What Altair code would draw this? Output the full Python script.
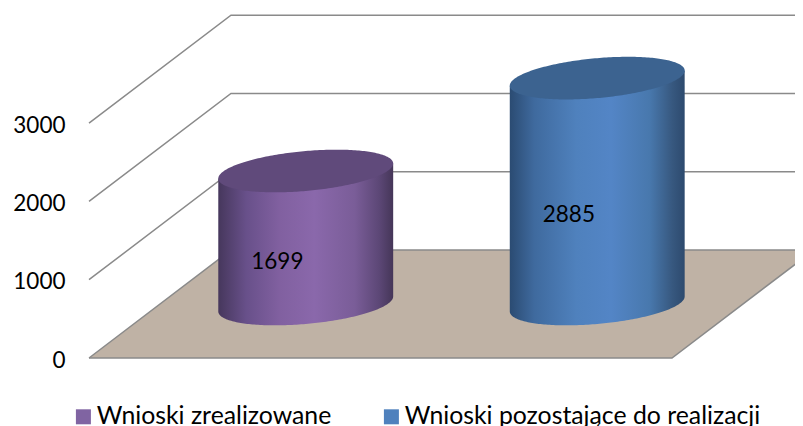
import altair as alt
import numpy as np
import pandas as pd

# --- chart values ---
categories = ["Wnioski zrealizowane", "Wnioski pozostające do realizacji"]
values = [1699, 2885]
tick_values = [0, 1000, 2000, 3000]
legend_colors = ["#8064a2", "#4f81bd"]
top_colors = ["#604a7b", "#3c6390"]
body_stops = [
    [(0.0, "#46375c"), (0.16, "#68508a"), (0.35, "#8160a0"), (0.55, "#8a68ab"), (0.78, "#7a5d98"), (0.92, "#5c4776"), (1.0, "#453658")],
    [(0.0, "#2b4b72"), (0.14, "#3f6a9e"), (0.38, "#4f81bd"), (0.58, "#5385c6"), (0.80, "#4878ad"), (0.93, "#37587f"), (1.0, "#2d4a6e")],
]
FLOOR = "#bfb2a5"
GRID = "#8a8a8a"
FONT = "Lato"

# --- pseudo-3D model: c = category position, v = value, d = depth (0 front, 1 back) ---
DEPTH_C = 0.487
DEPTH_V = 1379.0
RADIUS_C = 0.300
RADIUS_V = 255.0
TILT_V = 96.0
XDOM = [-0.2779, 2.4220]
YDOM = [-868.4, 4470.0]


def px(c, d):
    return np.asarray(c, dtype=float) + DEPTH_C * np.asarray(d, dtype=float)


def pv(v, d):
    return np.asarray(v, dtype=float) + DEPTH_V * np.asarray(d, dtype=float)


xs = alt.Scale(domain=XDOM, nice=False, zero=False)
ys = alt.Scale(domain=YDOM, nice=False, zero=False)
X = alt.X("x:Q", scale=xs, axis=None)
Y = alt.Y(
    "y:Q",
    scale=ys,
    axis=alt.Axis(
        values=tick_values,
        format="d",
        orient="left",
        offset=-57,
        domain=False,
        ticks=False,
        grid=False,
        title=None,
        labelFont=FONT,
        labelFontSize=22.5,
        labelColor="#000000",
        labelPadding=0,
        labelOffset=2,
    ),
)
Y2 = alt.Y2("y2:Q")

# floor
floor_df = pd.DataFrame({
    "x": [px(0, 0), px(0, 1), px(2, 0), px(2, 1)],
    "y": [pv(0, 0), pv(0, 1), pv(0, 1), pv(0, 1)],
    "y2": [pv(0, 0), pv(0, 0), pv(0, 0), pv(0, 1)],
})
floor = alt.Chart(floor_df).mark_area(color=FLOOR, interpolate="linear").encode(x=X, y=Y, y2=Y2)

# walls / grid lines
rows = []
for t in tick_values:
    for i, (c, d) in enumerate([(0, 0), (0, 1), (2, 1)]):
        rows.append({"g": f"t{t}", "i": i, "x": float(px(c, d)), "y": float(pv(t, d))})
for i, (c, d) in enumerate([(0, 0), (2, 0), (2, 1)]):
    rows.append({"g": "front", "i": i, "x": float(px(c, d)), "y": float(pv(0, d))})
grid = alt.Chart(pd.DataFrame(rows)).mark_line(color=GRID, strokeWidth=1.5).encode(
    x=X, y=Y, detail="g:N", order="i:Q"
)

# legend carrier
leg_df = pd.DataFrame({"name": categories, "x": [0.5, 1.5], "y": [0.0, 0.0]})
legend = alt.Chart(leg_df).mark_point(filled=True, shape="square", size=0, opacity=1).encode(
    x=X,
    y=Y,
    color=alt.Color(
        "name:N",
        scale=alt.Scale(domain=categories, range=legend_colors),
        sort=categories,
        legend=alt.Legend(
            title=None,
            orient="none",
            legendX=63,
            legendY=396,
            direction="horizontal",
            columns=2,
            columnPadding=47,
            symbolType="square",
            symbolSize=225,
            symbolStrokeWidth=0,
            symbolOffset=0,
            labelFont=FONT,
            labelFontSize=24.8,
            labelColor="#000000",
            labelOffset=1,
            labelLimit=500,
            padding=0,
        ),
    ),
)

# cylinders
cyl_layers = []
u = np.cos(np.linspace(np.pi, 0, 121))
for k, val in enumerate(values):
    cx = k + 0.5
    x = px(cx + RADIUS_C * u, 0.5)
    base = pv(0, 0.5)
    top = pv(val, 0.5)
    half = RADIUS_V * np.sqrt(1 - u ** 2)
    grad = alt.LinearGradient(
        gradient="linear",
        x1=0, x2=1, y1=0, y2=0,
        stops=[alt.GradientStop(offset=o, color=c) for o, c in body_stops[k]],
    )
    body_df = pd.DataFrame({"x": x, "y": top + TILT_V * u, "y2": base + TILT_V * u - half})
    cap_df = pd.DataFrame({"x": x, "y": top + TILT_V * u + half, "y2": top + TILT_V * u - half})
    cyl_layers.append(alt.Chart(body_df).mark_area(color=grad, interpolate="linear").encode(x=X, y=Y, y2=Y2))
    cyl_layers.append(alt.Chart(cap_df).mark_area(color=top_colors[k], interpolate="linear").encode(x=X, y=Y, y2=Y2))

# data labels
lab_df = pd.DataFrame({
    "x": [float(px(k + 0.5, 0.3)) for k in range(len(values))],
    "y": [float(pv(v / 2, 0.3)) for v in values],
    "t": [str(v) for v in values],
})
labels = alt.Chart(lab_df).mark_text(font=FONT, fontSize=22.5, color="#000000", align="center", baseline="middle", dy=2.5).encode(
    x=X, y=Y, text="t:N"
)

chart = alt.layer(floor, grid, legend, *cyl_layers, labels).properties(
    width=787,
    height=418,
    padding=0,
    autosize=alt.AutoSizeParams(type="none"),
    background="#ffffff",
).configure_view(stroke=None)

chart.save("out.html", embed_options={"renderer": "svg", "actions": False})
